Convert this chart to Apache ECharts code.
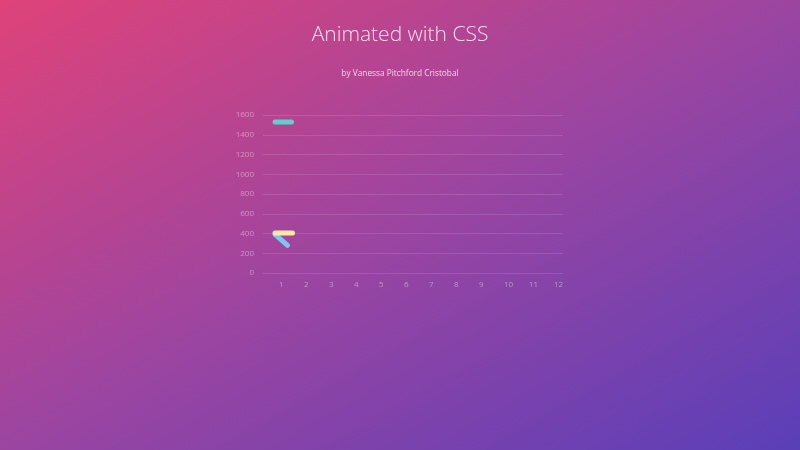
<!DOCTYPE html>
<html>
<head>
<meta charset="utf-8">
<script src="https://cdn.jsdelivr.net/npm/echarts@6/dist/echarts.min.js"></script>
<style>
html,body{margin:0;padding:0;width:800px;height:450px;overflow:hidden;}
body{background:linear-gradient(to bottom right,#df4379 0%,#9b45a1 50%,#5a3fb8 100%);}
#chart{width:800px;height:450px;}
</style>
</head>
<body>
<div id="chart"></div>
<script>
const xTickLabels = [1,2,3,4,5,6,7,8,9,10,11,12];
const yTicks = [0,200,400,600,800,1000,1200,1400,1600];
// visible (partially drawn) line segments as captured in the picture
const tealSeries = [[1,1530],[1.66,1530]];
const yellowSeries = [[1,405],[1.7,405]];
const blueSeries = [[1,390],[1.5,280]];

const chart = echarts.init(document.getElementById('chart'), null, {renderer:'canvas'});
const labelColor = 'rgba(255,255,255,0.42)';
chart.setOption({
  backgroundColor:'transparent',
  animation:false,
  title:[
    {text:'Animated with CSS',left:'center',top:20,
     textStyle:{color:'rgba(255,240,250,0.9)',fontFamily:'Open Sans',fontWeight:300,fontSize:21}},
    {text:'by Vanessa Pitchford Cristobal',left:'center',top:65,
     textStyle:{color:'rgba(255,240,250,0.85)',fontFamily:'Open Sans',fontWeight:'normal',fontSize:8.3}}
  ],
  grid:{left:263,right:237,top:115,bottom:177,containLabel:false},
  xAxis:{
    type:'value',min:0.52,max:12.52,
    axisLine:{show:false},axisTick:{show:false},splitLine:{show:false},
    axisLabel:{customValues:xTickLabels,color:labelColor,fontSize:8,fontFamily:'Open Sans',align:'left',margin:8,padding:[0,0,0,4],
      formatter:function(v){return String(v);}}
  },
  yAxis:{
    type:'value',min:yTicks[0],max:yTicks[yTicks.length-1],interval:200,
    axisLine:{show:false},axisTick:{show:false},
    splitLine:{lineStyle:{color:'rgba(255,255,255,0.12)',width:1}},
    axisLabel:{color:labelColor,fontSize:8,fontFamily:'Open Sans',margin:9,
      formatter:function(v){return String(v);}}
  },
  series:[
    {type:'line',data:tealSeries,symbol:'none',lineStyle:{color:'#5fcfcd',width:5,cap:'round'}},
    {type:'line',data:blueSeries,symbol:'none',lineStyle:{color:'#79c8f2',width:5,cap:'round'}},
    {type:'line',data:yellowSeries,symbol:'none',lineStyle:{color:'#fde8a4',width:5,cap:'round'}}
  ]
});
</script>
</body>
</html>
